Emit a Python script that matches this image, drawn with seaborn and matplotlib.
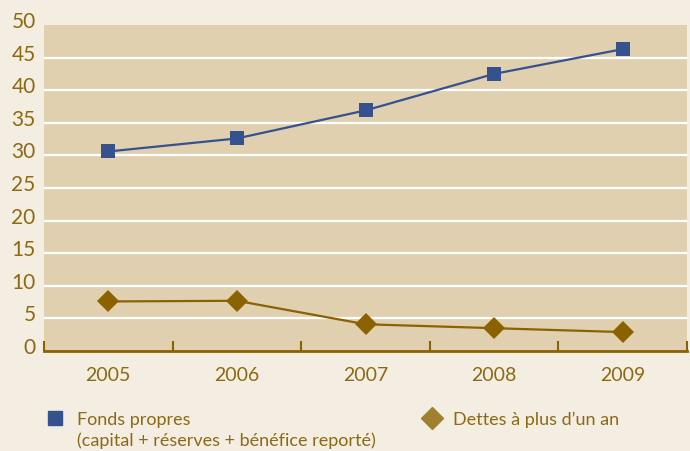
import pandas as pd
import numpy as np
import matplotlib.pyplot as plt
import matplotlib.transforms as mtransforms
from matplotlib.lines import Line2D
import seaborn as sns

years = ["2005", "2006", "2007", "2008", "2009"]
fonds_propres = [30.6, 32.6, 36.9, 42.5, 46.3]
dettes = [7.6, 7.7, 4.1, 3.5, 2.9]
serie_fp = "Fonds propres"
serie_dt = "Dettes à plus d’un an"
fp_sous_titre = "(capital + réserves + bénéfice reporté)"
yticks = [0, 5, 10, 15, 20, 25, 30, 35, 40, 45, 50]

fig_bg = "#F3EDE2"
ax_bg = "#E0D0B0"
bleu = "#35528F"
brun = "#8A6200"
texte = "#8C6A12"

sns.set_theme(style="white")
plt.rcParams["font.family"] = ["Lato", "DejaVu Sans"]

x = np.arange(len(years))
df = pd.DataFrame({
    "x": np.concatenate([x, x]),
    "valeur": fonds_propres + dettes,
    "serie": [serie_fp] * len(years) + [serie_dt] * len(years),
})

fig = plt.figure(figsize=(6.9, 4.52), dpi=100, facecolor=fig_bg)
ax = fig.add_axes([44 / 690, 1 - 352 / 452, 643 / 690, 326 / 452])
ax.set_facecolor(ax_bg)

# lignes de grille blanches
for v in yticks[1:-1]:
    ax.axhline(v, color="white", lw=1.6, zorder=1)

sns.lineplot(data=df, x="x", y="valeur", hue="serie", style="serie",
             palette={serie_fp: bleu, serie_dt: brun},
             markers={serie_fp: "s", serie_dt: "D"}, dashes=False,
             markersize=10, linewidth=1.6, markeredgewidth=0,
             legend=False, ax=ax, zorder=3)
for ln in ax.lines[-2:]:
    if ln.get_marker() == "D":
        ln.set_markersize(11)

ax.set_xlim(-0.5, len(years) - 0.5)
ax.set_ylim(0, 50)
ax.set_xlabel("")
ax.set_ylabel("")

ax.set_xticks(x)
ax.set_xticklabels(years)
ax.set_xticks(np.arange(-0.5, len(years), 1), minor=True)
ax.tick_params(axis="x", which="major", length=0, pad=11, labelsize=14, labelcolor=texte)
ax.tick_params(axis="x", which="minor", direction="in", length=7, width=1.5, color=brun, bottom=True)

ax.set_yticks(yticks)
ax.set_yticklabels([str(v) for v in yticks])
ax.tick_params(axis="y", length=0, pad=6, labelsize=15, labelcolor=texte)
decal = mtransforms.ScaledTranslation(0, 6 / 100, fig.dpi_scale_trans)
for lab in ax.get_yticklabels():
    lab.set_transform(lab.get_transform() + decal)

for s in ["top", "right", "left"]:
    ax.spines[s].set_visible(False)
ax.spines["bottom"].set_color(brun)
ax.spines["bottom"].set_linewidth(2)

# légende
h_fp = Line2D([], [], marker="s", color=bleu, linestyle="none", markersize=10)
h_dt = Line2D([], [], marker="D", color="#A0802F", linestyle="none", markersize=11)
opts = dict(loc="center left", frameon=False, fontsize=13, handlelength=1.0,
            borderpad=0, borderaxespad=0, labelcolor=texte)
fig.legend([h_fp], [serie_fp], bbox_to_anchor=(46 / 690, 1 - 420 / 452),
           handletextpad=0.7, **opts)
fig.legend([h_dt], [serie_dt], bbox_to_anchor=(423 / 690, 1 - 420 / 452),
           handletextpad=0.65, **opts)
fig.text(77 / 690, 1 - 441 / 452, fp_sous_titre, fontsize=13, color=texte, va="center")

fig.savefig("out.png", dpi=100, facecolor=fig_bg)
